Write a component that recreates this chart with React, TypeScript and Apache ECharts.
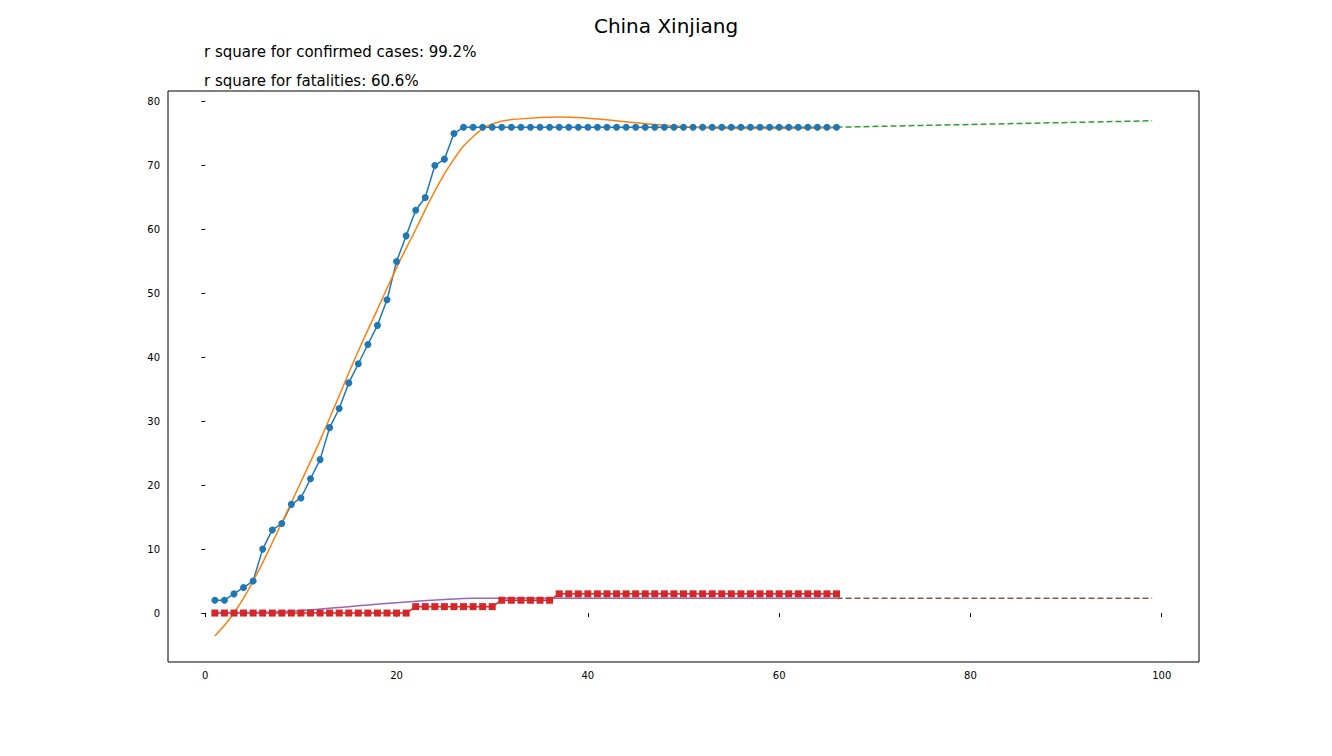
import React, { useEffect, useRef } from 'react';
import * as echarts from 'echarts';

const confirmed = [2, 2, 3, 4, 5, 10, 13, 14, 17, 18, 21, 24, 29, 32, 36, 39, 42, 45, 49, 55, 59, 63, 65, 70, 71, 75,
  76, 76, 76, 76, 76, 76, 76, 76, 76, 76, 76, 76, 76, 76, 76, 76, 76, 76, 76, 76, 76, 76, 76, 76,
  76, 76, 76, 76, 76, 76, 76, 76, 76, 76, 76, 76, 76, 76, 76, 76];
const fatalities = [0, 0, 0, 0, 0, 0, 0, 0, 0, 0, 0, 0, 0, 0, 0, 0, 0, 0, 0, 0, 0,
  1, 1, 1, 1, 1, 1, 1, 1, 1, 2, 2, 2, 2, 2, 2,
  3, 3, 3, 3, 3, 3, 3, 3, 3, 3, 3, 3, 3, 3, 3, 3, 3, 3, 3, 3, 3, 3, 3, 3, 3, 3, 3, 3, 3, 3];
const confirmedFit = [[1, -3.6], [3, 0], [5, 5], [7, 11], [10, 20.5], [12, 27], [14, 34], [16, 41], [18, 47.5], [20, 54],
  [22, 60], [24, 66], [26, 71], [28, 74.5], [30, 76.5], [33, 77.3], [37, 77.6], [40, 77.4], [45, 76.7], [50, 76.1],
  [55, 75.8], [60, 75.8], [66, 75.9]];
const confirmedForecast = [[66, 76], [99, 77]];
const fatalFit = [[1, 0.1], [5, 0.1], [10, 0.4], [15, 1], [20, 1.6], [25, 2.1], [28, 2.3], [35, 2.3], [66, 2.3]];
const fatalForecast = [[66, 2.3], [99, 2.3]];
const xTicks = [0, 20, 40, 60, 80, 100];
const yTicks = [0, 10, 20, 30, 40, 50, 60, 70, 80];

const App = () => {
  const chartRef = useRef(null);

  useEffect(() => {
    document.body.style.margin = '0';
    if (!chartRef.current) return;
    const chart = echarts.init(chartRef.current, null, { renderer: 'svg' });
    const font = 'DejaVu Sans';
    const axisCommon = {
      type: 'value',
      axisLine: { show: false },
      splitLine: { show: false },
      axisTick: { show: true, length: 4, lineStyle: { color: '#000' } },
      axisLabel: { color: '#000', fontSize: 10, fontFamily: font },
    };
    chart.setOption({
      animation: false,
      textStyle: { fontFamily: font },
      title: [
        { text: 'China Xinjiang', left: 'center', top: 11, textStyle: { fontSize: 20, fontWeight: 'normal', color: '#000' } },
        { text: 'r square for confirmed cases: 99.2%', left: 199, top: 39, textStyle: { fontSize: 15, fontWeight: 'normal', color: '#000' } },
        { text: 'r square for fatalities: 60.6%', left: 199, top: 68, textStyle: { fontSize: 15, fontWeight: 'normal', color: '#000' } },
      ],
      grid: { left: 168, right: 133, top: 91, bottom: 94, show: true, borderColor: '#000', borderWidth: 1 },
      xAxis: {
        ...axisCommon, min: -3.9, max: 103.9,
        axisTick: { ...axisCommon.axisTick, customValues: xTicks },
        axisLabel: { ...axisCommon.axisLabel, customValues: xTicks, margin: 8 },
      },
      yAxis: {
        ...axisCommon, min: -7.66, max: 81.66,
        axisTick: { ...axisCommon.axisTick, customValues: yTicks },
        axisLabel: { ...axisCommon.axisLabel, customValues: yTicks, margin: 8 },
      },
      series: [
        { type: 'line', data: confirmed.map((v, i) => [i + 1, v]), symbol: 'circle', symbolSize: 7,
          itemStyle: { color: '#1f77b4' }, lineStyle: { color: '#1f77b4', width: 1.5 } },
        { type: 'line', data: confirmedFit, smooth: true, showSymbol: false, lineStyle: { color: '#ff7f0e', width: 1.5 } },
        { type: 'line', data: confirmedForecast, showSymbol: false, lineStyle: { color: '#2ca02c', width: 1.5, type: [6, 3] } },
        { type: 'line', data: fatalities.map((v, i) => [i + 1, v]), symbol: 'rect', symbolSize: 7,
          itemStyle: { color: '#d62728' }, lineStyle: { color: '#d62728', width: 1.5 } },
        { type: 'line', data: fatalFit, smooth: true, showSymbol: false, lineStyle: { color: '#9467bd', width: 1.5 } },
        { type: 'line', data: fatalForecast, showSymbol: false, lineStyle: { color: '#8c564b', width: 1.5, type: [6, 3] } },
      ],
    });
    return () => chart.dispose();
  }, []);

  return <div ref={chartRef} style={{ width: '1332px', height: '756px', background: '#fff' }} />;
};

export default App;
